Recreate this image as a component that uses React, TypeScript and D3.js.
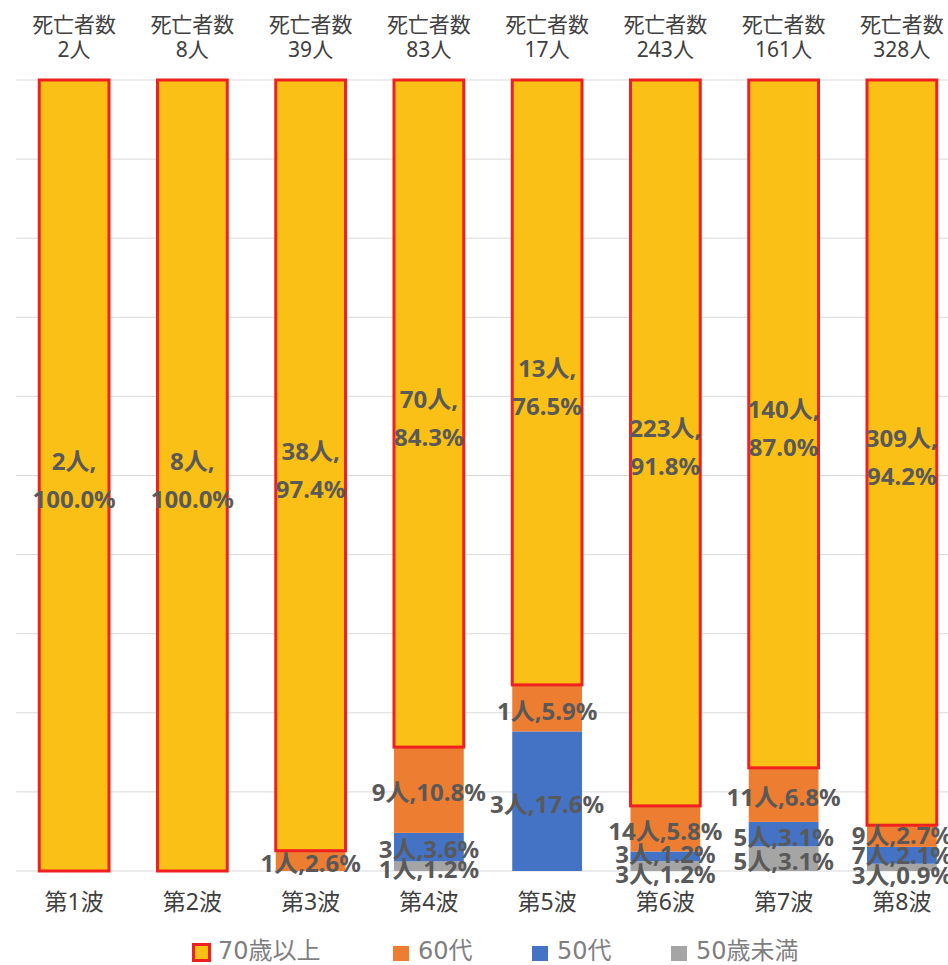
import React, { useRef, useEffect } from 'react';
import * as d3 from 'd3';

// waves and death counts by age group
const waves = ['第1波', '第2波', '第3波', '第4波', '第5波', '第6波', '第7波', '第8波'];
const totals = [2, 8, 39, 83, 17, 243, 161, 328];
const over70 = [2, 8, 38, 70, 13, 223, 140, 309];
const pctOver70 = ['100.0', '100.0', '97.4', '84.3', '76.5', '91.8', '87.0', '94.2'];
const age60s = [0, 0, 1, 9, 1, 14, 11, 9];
const pct60s = ['0.0', '0.0', '2.6', '10.8', '5.9', '5.8', '6.8', '2.7'];
const age50s = [0, 0, 0, 3, 3, 3, 5, 7];
const pct50s = ['0.0', '0.0', '0.0', '3.6', '17.6', '1.2', '3.1', '2.1'];
const under50 = [0, 0, 0, 1, 0, 3, 5, 3];
const pctUnder50 = ['0.0', '0.0', '0.0', '1.2', '0.0', '1.2', '3.1', '0.9'];

const keys = ['under50', 'age50s', 'age60s', 'over70'];
const legendNames = { over70: '70歳以上', age60s: '60代', age50s: '50代', under50: '50歳未満' };
const colors = { over70: '#FBC015', age60s: '#ED7D31', age50s: '#4472C4', under50: '#A5A5A5' };
const counts = { over70, age60s, age50s, under50 };
const pcts = { over70: pctOver70, age60s: pct60s, age50s: pct50s, under50: pctUnder50 };
const gridTicks = [0, 10, 20, 30, 40, 50, 60, 70, 80, 90, 100];

const labelFont = "'Noto Sans', 'Noto Sans CJK JP', sans-serif";
const legendFont = "'DejaVu Sans', 'Noto Sans CJK JP', sans-serif";

const App = () => {
  const ref = useRef(null);

  useEffect(() => {
    if (!ref.current) return;
    const W = 948, H = 965;
    d3.select(ref.current).selectAll('*').remove();
    const svg = d3.select(ref.current)
      .attr('width', W)
      .attr('height', H)
      .style('font-family', labelFont);

    const x = d3.scaleBand().domain(waves).range([15, 961]).paddingInner(0.41).paddingOuter(0.205);
    const y = d3.scaleLinear().domain([0, 100]).range([871, 80]);

    // gridlines
    svg.append('g').selectAll('line')
      .data(gridTicks)
      .join('line')
      .attr('x1', 16).attr('x2', W)
      .attr('y1', d => y(d)).attr('y2', d => y(d))
      .attr('stroke', '#D9D9D9').attr('stroke-width', 1);

    const rows = waves.map((w, i) => {
      const r = { wave: w };
      keys.forEach(k => { r[k] = counts[k][i] / totals[i] * 100; });
      return r;
    });
    const series = d3.stack().keys(keys)(rows);

    // bars
    series.forEach(s => {
      svg.append('g').selectAll('rect')
        .data(s)
        .join('rect')
        .attr('x', d => x(d.data.wave))
        .attr('width', x.bandwidth())
        .attr('y', d => y(d[1]))
        .attr('height', d => Math.max(0, y(d[0]) - y(d[1])))
        .attr('fill', colors[s.key])
        .attr('stroke', s.key === 'over70' ? '#F02020' : 'none')
        .attr('stroke-width', 3);
    });

    // data labels
    const lg = svg.append('g')
      .attr('font-weight', 'bold')
      .attr('font-size', 24)
      .attr('fill', '#595959')
      .attr('text-anchor', 'middle')
      .attr('dominant-baseline', 'central');

    waves.forEach((w, i) => {
      const cx = x(w) + x.bandwidth() / 2;
      // big label for 70+
      const top = series[3][i];
      const c = (y(top[0]) + y(top[1])) / 2 + 4;
      lg.append('text').attr('x', cx).attr('y', c - 19).text(`${over70[i]}人,`);
      lg.append('text').attr('x', cx).attr('y', c + 19).text(`${pctOver70[i]}%`);

      // small labels, bottom-up, pushed apart if they overlap
      let items = [];
      [0, 1, 2].forEach(si => {
        const k = keys[si];
        if (counts[k][i] > 0) {
          const d = series[si][i];
          items.push({ y: (y(d[0]) + y(d[1])) / 2 + 2, text: `${counts[k][i]}人,${pcts[k][i]}%` });
        }
      });
      items.sort((a, b) => b.y - a.y);
      const gap = 20;
      let clusters = items.map(it => ({ items: [it], mean: it.y }));
      let merged = true;
      while (merged) {
        merged = false;
        for (let j = 0; j < clusters.length - 1; j++) {
          const a = clusters[j], b = clusters[j + 1];
          const aTop = a.mean - (a.items.length - 1) * gap / 2;
          const bBot = b.mean + (b.items.length - 1) * gap / 2;
          if (aTop - bBot < gap) {
            const all = a.items.concat(b.items);
            clusters.splice(j, 2, { items: all, mean: d3.mean(all, it => it.y) });
            merged = true;
            break;
          }
        }
      }
      clusters.forEach(cl => {
        const n = cl.items.length;
        cl.items.forEach((it, j) => {
          const yy = cl.mean + ((n - 1) / 2 - j) * gap;
          lg.append('text').attr('x', cx).attr('y', yy).text(it.text);
        });
      });
    });

    // category axis labels
    svg.append('g').selectAll('text')
      .data(waves)
      .join('text')
      .attr('x', d => x(d) + x.bandwidth() / 2)
      .attr('y', 901)
      .attr('text-anchor', 'middle')
      .attr('dominant-baseline', 'central')
      .attr('font-size', 23)
      .attr('fill', '#404040')
      .text(d => d);

    // totals above bars
    const tg = svg.append('g')
      .attr('text-anchor', 'middle')
      .attr('dominant-baseline', 'central')
      .attr('font-size', 21)
      .attr('fill', '#404040');
    waves.forEach((w, i) => {
      const cx = x(w) + x.bandwidth() / 2;
      tg.append('text').attr('x', cx).attr('y', 24).text('死亡者数');
      tg.append('text').attr('x', cx).attr('y', 49).text(`${totals[i]}人`);
    });

    // legend
    const legendOrder = ['over70', 'age60s', 'age50s', 'under50'];
    const legendX = [192, 393, 532, 671];
    const leg = svg.append('g');
    legendOrder.forEach((k, i) => {
      const g = leg.append('g').attr('transform', `translate(${legendX[i]},943)`);
      if (k === 'over70') {
        g.append('rect').attr('x', 1.5).attr('y', 1.5).attr('width', 16).attr('height', 16)
          .attr('fill', colors[k]).attr('stroke', '#F02020').attr('stroke-width', 3);
      } else {
        g.append('rect').attr('x', 0).attr('y', 3).attr('width', 16).attr('height', 15)
          .attr('fill', colors[k]);
      }
      g.append('text')
        .attr('x', k === 'over70' ? 26 : 25).attr('y', 8)
        .attr('dominant-baseline', 'central')
        .attr('font-family', legendFont)
        .attr('font-size', 24)
        .attr('fill', '#7F7F7F')
        .text(legendNames[k]);
    });
  }, []);

  return (
    <svg ref={ref} style={{ position: 'absolute', left: 0, top: 0, display: 'block' }} />
  );
};

export default App;
